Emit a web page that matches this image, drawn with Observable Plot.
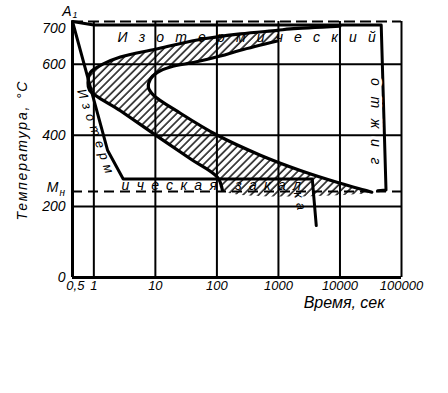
<!DOCTYPE html>
<html><head><meta charset="utf-8">
<script src="https://cdn.jsdelivr.net/npm/d3@7"></script>
<script src="https://cdn.jsdelivr.net/npm/@observablehq/plot@0.6"></script>
<style>body{margin:0;background:#fff}</style>
</head><body>
<script>
// ---- data ----
const xTicks = [0.5, 1, 10, 100, 1000, 10000, 100000];
const xTickLabels = ["0,5", "1", "10", "100", "1000", "10000", "100000"];
const yTicks = [0, 200, 400, 600, 700];
const yTickLabels = ["0", "200", "400", "600", "700"];
const xGrid = [1, 10, 100, 1000, 10000];
const yGrid = [200, 400, 600];
const A1 = 720;   // критическая точка A1
const MN = 242;   // Mн

// начало превращения (наружная С-кривая)
const startTime = [10000, 1560, 960, 241, 48, 10, 2.7, 1.4, 0.88, 0.805, 0.85, 2.7, 10.8, 37, 102, 123];
const startTemp = [707, 699, 695, 685, 668, 642, 620, 600, 577, 549, 527, 469, 397, 334, 282, 245];
// конец превращения (внутренняя С-кривая)
const finishTime = [960, 241, 114, 44.8, 17.6, 10.8, 8.3, 7.7, 9.3, 25.5, 102, 508, 2270, 10100, 24800, 33000];
const finishTemp = [665, 639, 623, 606, 592, 577, 558, 535, 513, 462, 400, 344, 301, 265, 246, 240];
// изотермический отжиг
const annealTime = [0.45, 1, 46800, 56000, 41000];
const annealTemp = [720, 710, 710, 246, 244];
// изотермическая закалка
const quenchTime = [0.45, 1.67, 3.0, 3550, 4120];
const quenchTemp = [720, 358, 277, 277, 146];

// подписи
const curveLabels = [
  {t: 2.42, T: 676, s: "Изотермический", rot: 0, size: 14, ls: 11.2},
  {t: 37400, T: 561, s: "отжиг", rot: 90, size: 14, ls: 10.7},
  {t: 0.615, T: 529, s: "Изотерм", rot: 71, size: 13, ls: 5.3},
  {t: 2.82, T: 259, s: "ическая закал", rot: 0, size: 14, ls: 7.3},
  {t: 2065, T: 241, s: "ка", rot: 78, size: 13, ls: 5}
];
const xTitle = "Время, сек";
const yTitle = "Температура, °C";

// ---- build ----
const pts = (ts, Ts) => ts.map((t, i) => ({t, T: Ts[i]}));
const startPts = pts(startTime, startTemp);
const finishPts = pts(finishTime, finishTemp);
const annealPts = pts(annealTime, annealTemp);
const quenchPts = pts(quenchTime, quenchTemp);
const hatchPts = [...startPts.slice(2), ...finishPts.slice().reverse()];
const xt = xTicks.map((v, i) => ({v, s: xTickLabels[i]}));
const yt = yTicks.map((v, i) => ({v, s: yTickLabels[i]}));
const font = "'Liberation Sans', Arial, sans-serif";
const X0 = 0.45, X1 = 100000;

const marks = [
  Plot.ruleX(xGrid, {y1: 0, y2: A1, strokeWidth: 2}),
  Plot.ruleY(yGrid, {x1: X0, x2: X1, strokeWidth: 2}),
  Plot.ruleY([A1], {x1: X0, x2: X1, strokeWidth: 2, strokeDasharray: "11,5"}),
  Plot.ruleY([MN], {x1: X0, x2: X1, strokeWidth: 2, strokeDasharray: "10,6"}),
  Plot.line(hatchPts, {x: "t", y: "T", curve: "catmull-rom", fill: "url(#hatch)", stroke: "none"}),
  Plot.line(startPts, {x: "t", y: "T", curve: "catmull-rom", strokeWidth: 3.2}),
  Plot.line(finishPts, {x: "t", y: "T", curve: "catmull-rom", strokeWidth: 3.2}),
  Plot.line(annealPts, {x: "t", y: "T", strokeWidth: 3}),
  Plot.line(quenchPts, {x: "t", y: "T", strokeWidth: 3}),
  Plot.ruleX([X0], {y1: 0, y2: A1, strokeWidth: 3}),
  Plot.ruleY([0], {x1: X0, x2: X1, strokeWidth: 3}),
  Plot.ruleX([X1], {y1: 0, y2: A1, strokeWidth: 2}),
  Plot.text(xt, {x: "v", text: "s", frameAnchor: "bottom", dy: 12, textAnchor: "middle", fontSize: 13, fontStyle: "italic"}),
  Plot.text(yt, {y: "v", text: "s", frameAnchor: "left", dx: -7, textAnchor: "end", fontSize: 14, fontStyle: "italic"}),
  Plot.text(["M"], {y: MN, frameAnchor: "left", dx: -14, dy: -3.5, textAnchor: "end", fontSize: 14, fontStyle: "italic"}),
  Plot.text(["н"], {y: MN, frameAnchor: "left", dx: -13, dy: 1, textAnchor: "start", fontSize: 10, fontStyle: "italic"}),
  Plot.text(["A"], {y: A1, frameAnchor: "left", dx: -1, dy: -9.5, textAnchor: "end", fontSize: 14, fontStyle: "italic"}),
  Plot.text(["1"], {y: A1, frameAnchor: "left", dx: 0, dy: -6.5, textAnchor: "start", fontSize: 9, fontStyle: "italic"}),
  Plot.text([xTitle], {x: 11740, frameAnchor: "bottom", dy: 30, textAnchor: "middle", fontSize: 16, fontStyle: "italic"}),
  Plot.text([yTitle], {y: 358, frameAnchor: "left", dx: -50, rotate: -90, textAnchor: "middle", fontSize: 14, fontStyle: "italic"}),
  ...curveLabels.map(d => Plot.text([d], {
    x: "t", y: "T", text: "s", rotate: d.rot, fontSize: d.size, fontStyle: "italic",
    textAnchor: "start",
    ...(d.s === "отжиг" ? {stroke: "white", strokeWidth: 6, fill: "black"} : {})
  }))
];

const svg = Plot.plot({
  width: 448, height: 393,
  marginLeft: 72, marginRight: 47, marginTop: 21, marginBottom: 116,
  x: {type: "log", domain: [X0, X1], axis: null},
  y: {domain: [0, A1], axis: null},
  style: {fontFamily: font, background: "white", color: "black", overflow: "visible"},
  marks
});

// hatch pattern
const s = d3.select(svg);
const pat = s.insert("defs", ":first-child").append("pattern")
  .attr("id", "hatch").attr("patternUnits", "userSpaceOnUse")
  .attr("width", 5.5).attr("height", 5.5).attr("patternTransform", "rotate(45)");
pat.append("line").attr("x1", 1).attr("y1", 0).attr("x2", 1).attr("y2", 5.5)
  .attr("stroke", "black").attr("stroke-width", 1.4);

// letter spacing for spaced labels
const spacing = new Map(curveLabels.map(d => [d.s, d.ls]));
spacing.set(yTitle, 1.8);
s.selectAll("text").each(function() {
  const v = spacing.get(this.textContent);
  if (v != null) this.setAttribute("letter-spacing", v);
});
document.body.appendChild(svg);
</script>
</body></html>
